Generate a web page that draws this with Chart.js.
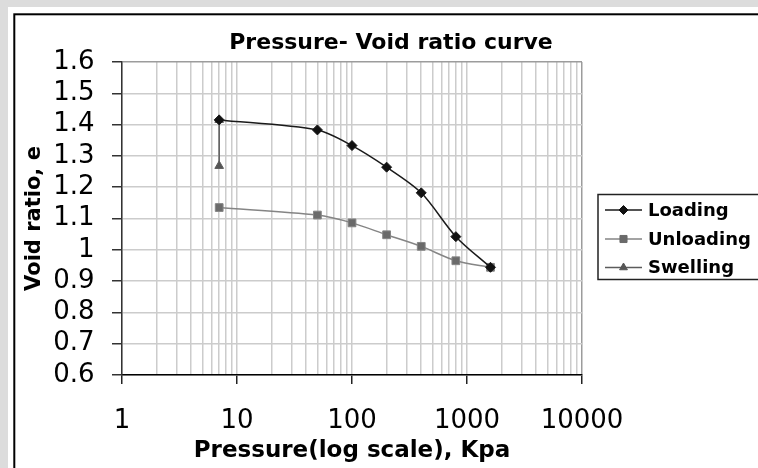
<!DOCTYPE html>
<html>
<head>
<meta charset="utf-8">
<script src="https://cdn.jsdelivr.net/npm/chart.js@4.4.1/dist/chart.umd.min.js"></script>
<style>
html, body { margin: 0; padding: 0; background: #dcdcdc; }
#grafico { display: block; }
</style>
</head>
<body>
<canvas id="grafico" width="758" height="468"></canvas>
<script>
// valores
var pressao = [7, 50, 100, 200, 400, 800, 1600];
var carregamento = [1.415, 1.383, 1.333, 1.264, 1.182, 1.042, 0.944];
var descarregamento = [1.135, 1.111, 1.086, 1.048, 1.011, 0.965, 0.944];
var pressaoExpansao = [7, 7];
var expansao = [1.268, 1.415];
var rotulosX = [1, 10, 100, 1000, 10000];
var ticksY = [0.6, 0.7, 0.8, 0.9, 1.0, 1.1, 1.2, 1.3, 1.4, 1.5, 1.6];

var FONTE = 'DejaVu Sans';

function pontos(xs, ys) {
    return xs.map(function (x, i) { return { x: x, y: ys[i] }; });
}

// linhas de grade menores do eixo log (1..9 em cada decada)
function gradeLog() {
    var v = [];
    for (var k = 0; k < 4; k++) {
        for (var m = 1; m < 10; m++) v.push(m * Math.pow(10, k));
    }
    v.push(10000);
    return v;
}

var fundo = {
    id: 'fundo',
    beforeDraw: function (chart) {
        var c = chart.ctx;
        c.save();
        c.fillStyle = '#dcdcdc';
        c.fillRect(0, 0, chart.width, chart.height);
        c.fillStyle = '#ffffff';
        c.fillRect(8, 7, chart.width, chart.height);
        c.strokeStyle = '#000';
        c.lineWidth = 2;
        c.strokeRect(14.3, 14.3, chart.width + 10, chart.height + 10);
        c.restore();
    }
};

var legenda = {
    id: 'legenda',
    afterDraw: function (chart) {
        var c = chart.ctx;
        c.save();
        c.strokeStyle = '#222';
        c.lineWidth = 1.5;
        c.strokeRect(598, 194.5, 200, 85);
        var linhasY = [210, 239, 267.5];
        chart.data.datasets.forEach(function (ds, i) {
            var y = linhasY[i];
            c.strokeStyle = ds.borderColor;
            c.lineWidth = 1.5;
            c.beginPath();
            c.moveTo(605, y);
            c.lineTo(642, y);
            c.stroke();
            c.fillStyle = ds.backgroundColor;
            c.strokeStyle = ds.backgroundColor;
            c.lineWidth = 1;
            Chart.helpers.drawPoint(c, { pointStyle: ds.pointStyle, radius: ds.pointRadius - 0.5, rotation: 0, borderWidth: 1 }, 623.5, y);
            c.fillStyle = '#000';
            c.font = 'bold 18px "' + FONTE + '"';
            c.textBaseline = 'middle';
            c.textAlign = 'left';
            c.fillText(ds.label, 648, y + 1);
        });
        c.restore();
    }
};

var ctx = document.getElementById('grafico').getContext('2d');
var grafico = new Chart(ctx, {
    type: 'line',
    data: {
        datasets: [{
            label: 'Loading',
            data: pontos(pressao, carregamento),
            borderColor: '#1a1a1a',
            backgroundColor: '#111111',
            borderWidth: 1.5,
            pointStyle: 'rectRot',
            pointRadius: 5,
            pointBorderWidth: 1,
            tension: 0.3
        }, {
            label: 'Unloading',
            data: pontos(pressao, descarregamento),
            borderColor: '#858585',
            backgroundColor: '#6a6a6a',
            borderWidth: 1.5,
            pointStyle: 'rect',
            pointRadius: 5.5,
            pointBorderWidth: 1,
            tension: 0.3
        }, {
            label: 'Swelling',
            data: pontos(pressaoExpansao, expansao),
            borderColor: '#5c5c5c',
            backgroundColor: '#555555',
            borderWidth: 1.5,
            pointStyle: 'triangle',
            pointRadius: 5,
            pointBorderWidth: 1,
            tension: 0
        }]
    },
    options: {
        responsive: false,
        animation: false,
        layout: { padding: { left: 24, right: 0, top: 0, bottom: 0 } },
        plugins: {
            legend: { display: false },
            tooltip: { enabled: false },
            title: {
                display: true,
                text: 'Pressure- Void ratio curve',
                color: '#000',
                font: { family: FONTE, size: 22, weight: 'bold', lineHeight: 1.2 },
                padding: { top: 30, bottom: 5.6 }
            }
        },
        scales: {
            x: {
                type: 'logarithmic',
                position: 'bottom',
                min: 1,
                max: 10000,
                afterBuildTicks: function (s) {
                    s.ticks = gradeLog().map(function (v) { return { value: v }; });
                },
                afterFit: function (s) { s.height = 93; },
                ticks: {
                    autoSkip: false,
                    maxRotation: 0,
                    padding: 22,
                    color: '#000',
                    font: { family: FONTE, size: 26 },
                    callback: function (v) {
                        return rotulosX.indexOf(v) >= 0 ? String(v) : '';
                    }
                },
                grid: {
                    color: function (c) {
                        return c.tick && c.tick.value === 10000 ? '#9c9c9c' : '#cccccc';
                    },
                    lineWidth: 1.5,
                    tickLength: 9,
                    tickWidth: 1.5,
                    tickColor: function (c) {
                        return c.tick && rotulosX.indexOf(c.tick.value) >= 0 ? '#222' : 'rgba(0,0,0,0)';
                    }
                },
                border: { color: '#000', width: 1.5 },
                title: {
                    display: true,
                    text: 'Pressure(log scale), Kpa',
                    color: '#000',
                    font: { family: FONTE, size: 23, weight: 'bold', lineHeight: 1.2 },
                    padding: { top: 0, bottom: 3.5 }
                }
            },
            y: {
                type: 'linear',
                position: 'left',
                min: 0.6,
                max: 1.6,
                afterBuildTicks: function (s) {
                    s.ticks = ticksY.map(function (v) { return { value: v }; });
                },
                afterFit: function (s) { s.width = 98; },
                ticks: {
                    autoSkip: false,
                    padding: 17.5,
                    color: '#000',
                    font: { family: FONTE, size: 26 },
                    callback: function (v) { return String(Number(v.toFixed(1))); }
                },
                grid: {
                    color: function (c) {
                        return c.tick && c.tick.value >= 1.6 - 1e-9 ? '#9c9c9c' : '#cccccc';
                    },
                    lineWidth: 1.5,
                    tickLength: 10,
                    tickWidth: 1.5,
                    tickColor: '#333'
                },
                border: { color: '#333', width: 1.5 },
                title: {
                    display: true,
                    text: 'Void ratio, e',
                    color: '#000',
                    font: { family: FONTE, size: 21, weight: 'bold', lineHeight: 1 },
                    padding: { top: 0.5, bottom: 0 }
                }
            },
            espaco: {
                type: 'linear',
                position: 'right',
                display: true,
                ticks: { display: false },
                grid: { display: false, drawTicks: false },
                border: { display: false },
                afterFit: function (s) { s.width = 176; }
            }
        }
    },
    plugins: [fundo, legenda]
});
</script>
</body>
</html>
